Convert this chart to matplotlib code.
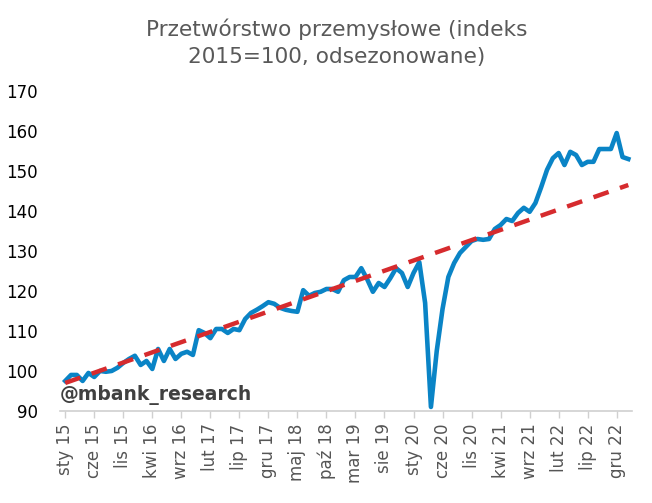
import matplotlib.pyplot as plt
import numpy as np

# miesiące od sty 2015 do lut 2023
month_names = ["sty", "lut", "mar", "kwi", "maj", "cze",
               "lip", "sie", "wrz", "paź", "lis", "gru"]
start_year = 2015

# indeks przetwórstwa przemysłowego (2015=100, odsezonowany)
values = [
    97.5, 99.0, 99.0, 97.5, 99.5, 98.5, 100.0, 99.8, 100.0, 100.8, 102.0, 103.0,
    103.8, 101.5, 102.5, 100.5, 105.5, 102.5, 105.5, 103.0, 104.3, 104.8, 104.0, 110.2,
    109.5, 108.2, 110.5, 110.5, 109.5, 110.5, 110.2, 113.0, 114.5, 115.3, 116.2, 117.2,
    116.8, 115.8, 115.3, 115.0, 114.8, 120.2, 118.8, 119.5, 119.8, 120.5, 120.5, 119.8,
    122.7, 123.5, 123.5, 125.7, 123.0, 119.8, 122.0, 121.0, 123.2, 125.7, 124.5, 121.0,
    124.5, 127.2, 117.0, 91.0, 105.0, 115.5, 123.5, 127.0, 129.5, 131.0, 132.5, 133.0,
    132.8, 133.0, 135.5, 136.5, 138.0, 137.5, 139.5, 140.8, 139.8, 142.0, 146.0, 150.3,
    153.2, 154.5, 151.5, 154.8, 154.0, 151.5, 152.3, 152.3, 155.5, 155.5, 155.5, 159.5,
    153.5, 153.0,
]

# linia trendu: wartość na początku i na końcu okresu
trend_ends = [97.0, 146.5]

n = len(values)
months = np.arange(n)
labels = [f"{month_names[i % 12]} {str(start_year + i // 12)[2:]}" for i in range(n)]

fig = plt.figure(figsize=(6.52, 5.03), dpi=100)
ax = fig.add_axes([0.092, 0.183, 0.877, 0.636])

ax.plot(months, values, color="#0A84C6", lw=3.3, solid_joinstyle="round", zorder=3)
ax.plot([months[0], months[-1]], trend_ends, color="#D62B2E", lw=3.2,
        dashes=(3.6, 2.7), zorder=4)

ax.set_xlim(-0.9, 97.6)
ax.set_ylim(90, 170)
ax.set_yticks(np.arange(90, 171, 10))
ax.set_xticks(months[::5])
ax.set_xticklabels(labels[::5], rotation=90, fontsize=12, color="#555555")

for s in ["top", "right", "left"]:
    ax.spines[s].set_visible(False)
ax.spines["bottom"].set_color("#D0D0D0")
ax.spines["bottom"].set_linewidth(1.2)

ax.tick_params(axis="y", length=0, pad=16, labelsize=12, labelcolor="black")
ax.tick_params(axis="x", length=5, width=1, color="#D0D0D0", pad=4)

fig.text(0.517, 0.915, "Przetwórstwo przemysłowe (indeks\n2015=100, odsezonowane)",
         ha="center", va="center", fontsize=15.6, color="#595959", linespacing=1.4)

ax.text(0.0, 0.02, "@mbank_research", transform=ax.transAxes, fontsize=13.5,
        fontweight="bold", color="#404040", ha="left", va="bottom", zorder=5)

fig.savefig("out.png", dpi=100)
